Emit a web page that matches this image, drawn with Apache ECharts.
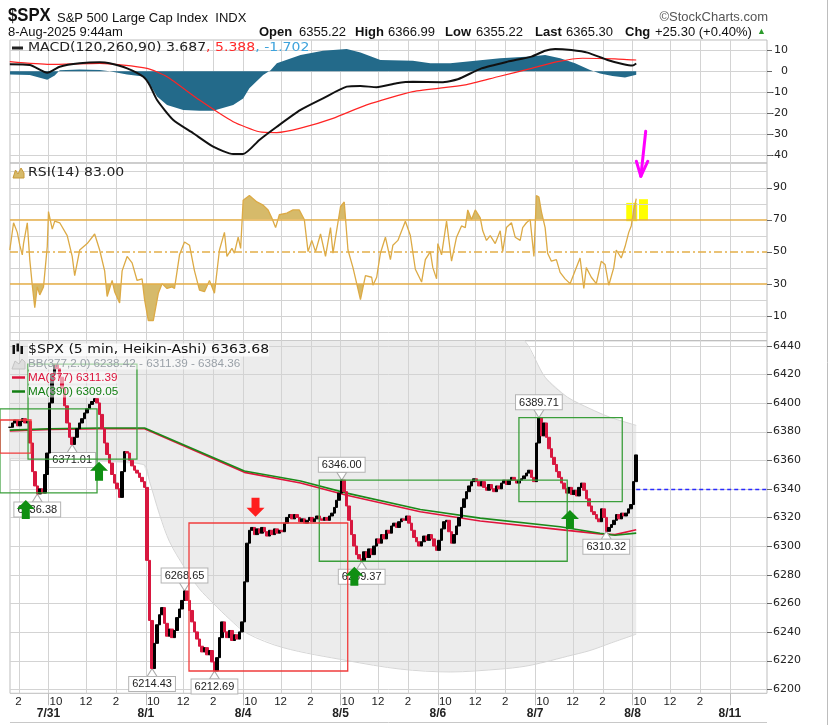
<!DOCTYPE html>
<html>
<head>
<meta charset="utf-8">
<title>$SPX 5 min Heikin-Ashi</title>
<script src="https://cdn.jsdelivr.net/npm/echarts@6.0.0/dist/echarts.min.js"></script>
<style>
html,body{margin:0;padding:0;background:#fff;}
#chart{width:830px;height:725px;}
</style>
</head>
<body>
<div id="chart"></div>
<script>
// ======================= DATA =======================
const dayLabels = ['7/31', '8/1', '8/4', '8/5', '8/6', '8/7', '8/8', '8/11'];
const hourLabels = ['10', '12', '2'];
const hourOffsets = [6, 30, 54];     // 5-min bars after the 9:30 open
const gridOffsets = [0, 30, 54];     // open, 12:00, 14:00
const BARS_PER_DAY = 78;

// Heikin-Ashi closes, one reading per 10 minutes
const close0730 = [6383, 6386, 6388, 6384, 6387, 6389, 6386, 6387, 6372, 6352, 6342, 6336.4, 6340, 6337, 6350, 6365]; // from 13:20
const close0731 = [6400, 6420, 6427, 6424, 6418, 6410, 6398, 6386, 6376, 6371.0, 6376, 6382, 6386, 6389, 6393, 6396, 6399, 6401, 6403, 6400, 6392, 6382, 6372, 6364, 6358, 6350, 6344, 6340, 6334, 6352, 6366, 6365, 6360, 6356, 6353, 6351, 6348, 6345, 6341];
const close0801 = [6290, 6248, 6214.4, 6232, 6245, 6252, 6257, 6246, 6237, 6242, 6236, 6241, 6250, 6256, 6262, 6268.6, 6262, 6255, 6247, 6240, 6235, 6230, 6226, 6229, 6224, 6227, 6219, 6212.7, 6222, 6236, 6247, 6240, 6236, 6241, 6234, 6238, 6235, 6240, 6247];
const close0804 = [6275, 6302, 6311, 6313, 6308, 6312, 6309, 6313, 6310, 6307, 6311, 6308, 6312, 6309, 6311, 6310, 6316, 6320, 6322, 6319, 6322, 6320, 6317, 6319, 6316, 6318, 6320, 6317, 6319, 6321, 6319, 6318, 6320, 6318, 6321, 6323, 6327, 6332, 6337];
const close0805 = [6346, 6338, 6328, 6318, 6308, 6300, 6294, 6291, 6289.4, 6296, 6292, 6298, 6294, 6300, 6305, 6302, 6308, 6305, 6311, 6309, 6314, 6316, 6313, 6317, 6319, 6318, 6321, 6316, 6311, 6306, 6303, 6300, 6303, 6307, 6304, 6308, 6305, 6300, 6297];
const close0806 = [6304, 6312, 6317, 6318, 6310, 6302, 6308, 6314, 6320, 6327, 6333, 6338, 6342, 6345, 6347, 6345, 6342, 6345, 6341, 6339, 6343, 6340, 6338, 6342, 6340, 6344, 6346, 6343, 6346, 6348, 6346, 6344, 6346, 6347, 6349, 6351, 6353, 6348, 6345];
const close0807 = [6372, 6389.7, 6377, 6386, 6376, 6368, 6362, 6357, 6352, 6348, 6344, 6340, 6337, 6341, 6336, 6339, 6335, 6341, 6344, 6339, 6333, 6328, 6324, 6322, 6319, 6317, 6326, 6320, 6310.3, 6313, 6315, 6318, 6322, 6319, 6323, 6321, 6323, 6326, 6329];
const close0808 = [6345, 6363.68];
const prevClose = 6340.00;

// [bar, value] readings (bar 0 = 7/31 9:30)
const ma377 = [[-31,6380.5],[1,6381.5],[41,6382],[77,6382],[157,6351.5],[202,6344],[239,6335.5],[298,6324],[346,6317.5],[410,6311.5],[442,6308.5],[454,6308],[471,6311.39]];
const ma390 = [[-31,6381],[1,6382],[41,6382.5],[77,6382.5],[157,6352.5],[202,6345.5],[239,6337],[298,6325.5],[346,6319.5],[410,6313.5],[442,6309],[454,6307.5],[471,6309.05]];
const bbLower = [[-31,6361],[25,6360],[76,6357],[81,6345],[89,6322],[97,6303],[109,6285],[121,6270],[132,6260],[145,6249],[159,6239],[188,6229],[239,6220],[282,6214],[322,6212],[362,6214],[382,6216],[398,6219],[416,6223],[434,6227],[450,6232],[471,6238.42]];
const bbUpper = [[-31,6450],[25,6451],[76,6452],[81,6455],[89,6462],[97,6468],[109,6472],[121,6475],[132,6477],[145,6478],[159,6478],[188,6477],[239,6474],[282,6470],[322,6465],[362,6456],[382,6443],[398,6418],[416,6404],[434,6396],[450,6390],[471,6384.36]];

const macdLine = [[-31,3.3],[-15,3.0],[-1,-0.7],[9,2.2],[25,3.8],[41,4.3],[49,3.8],[63,1.4],[76,-2.6],[81,-6.5],[87,-13.7],[100,-23.2],[116,-29.5],[132,-35.9],[148,-39.4],[156,-39.4],[169,-32.7],[183,-26.4],[202,-18.4],[220,-12.9],[239,-7.3],[250,-7.0],[263,-7.6],[279,-5.7],[292,-5.0],[315,-5.2],[328,-3.8],[347,1.4],[368,4.6],[387,7.0],[398,9.8],[406,10.6],[419,10.1],[432,8.9],[448,5.4],[460,3.5],[468,2.7],[471,3.687]];
const macdSignal = [[-31,4.6],[1,3.3],[41,3.8],[79,1.4],[95,-2.6],[121,-13.7],[148,-24],[169,-28.8],[183,-29.2],[202,-27.1],[228,-22.4],[255,-16],[292,-9.7],[334,-6.5],[360,-2.6],[387,1.4],[408,4.6],[428,6.2],[454,5.9],[468,5.4],[471,5.388]];
const macdHist = [[-31,-1.5],[-15,-1.8],[-1,-4],[5,-2],[9,0.5],[25,0.8],[41,0.6],[49,0],[63,-1.5],[76,-2.5],[79,-4],[87,-12],[95,-16],[108,-18.4],[121,-18.8],[132,-18.8],[148,-16],[156,-12.9],[161,-8.1],[172,-1.8],[178,0.5],[183,3.8],[202,7.8],[220,9.8],[239,10.6],[250,8.9],[266,5.4],[292,5],[306,3.8],[322,3.8],[342,5],[362,6.2],[386,7],[398,7.8],[410,6.2],[422,3.8],[434,0.6],[442,-1],[452,-2.2],[462,-2.9],[471,-1.702]];

const rsi = [[-31,51],[-28,68],[-25,62],[-23,54],[-21,48],[-20,55],[-17,68],[-15,45],[-13,29],[-11,15],[-9,28],[-7,23],[-4,28],[-1,53],[0,75],[3,64],[5,69],[9,68],[15,60],[19,47],[21,35],[25,51],[31,55],[37,61],[41,51],[45,38],[47,22],[51,32],[53,25],[57,18],[59,38],[63,47],[67,43],[71,32],[75,33],[77,20],[80,7],[84,7],[88,24],[91,30],[95,27],[99,28],[101,27],[105,48],[109,56],[113,54],[117,38],[121,26],[125,25],[129,32],[133,24],[137,51],[141,62],[143,47],[147,52],[149,49],[152,59],[154,52],[156,82],[161,85],[167,81],[172,79],[176,76],[179,71],[182,65],[185,73],[191,74],[196,76],[201,76],[205,70],[208,50],[211,57],[214,50],[218,61],[222,47],[226,65],[228,49],[234,78],[237,81],[240,51],[244,40],[250,20],[254,35],[259,34],[260,29],[263,34],[266,49],[270,59],[274,45],[276,54],[280,57],[286,69],[290,60],[294,39],[299,31],[302,45],[306,50],[308,40],[311,33],[312,55],[315,48],[319,69],[323,44],[327,59],[331,66],[334,65],[336,76],[339,70],[342,76],[346,71],[348,63],[351,57],[354,60],[358,55],[362,63],[364,50],[367,65],[371,68],[374,59],[378,57],[380,65],[383,68],[386,70],[389,47],[391,85],[393,84],[395,75],[398,65],[400,49],[403,44],[407,45],[410,37],[414,33],[418,30],[422,38],[426,46],[429,27],[431,40],[435,34],[439,30],[443,44],[446,42],[449,29],[453,40],[455,51],[459,46],[462,53],[465,62],[467,66],[469,76],[471,83]];
const rsiLevels = [70, 50, 30];

// tick labels
const macdTicks = [-40, -30, -20, -10, 0, 10];
const rsiLabelTicks = [10, 30, 50, 70, 90];
const rsiGridTicks = [0, 10, 20, 40, 60, 80, 90, 100];
const priceTicks = [6200, 6220, 6240, 6260, 6280, 6300, 6320, 6340, 6360, 6380, 6400, 6420, 6440];

// labelled extremes [bar, price, kind]
const priceLabels = [[-9,6336.38,'low'],[19,6371.01,'low'],[83,6214.43,'low'],[109,6268.65,'high'],[133,6212.69,'low'],[235,6346.00,'high'],[251,6289.37,'low'],[393,6389.71,'high'],[447,6310.32,'low']];

// hand-drawn annotations (bar / price space)
const greenBoxes = [[-38.9,38.9,6395.8,6337.1],[-16.4,70.9,6427.2,6360.8],[217.0,415.7,6346.0,6289.37],[377.0,459.8,6389.71,6331.0]];
const redBoxes = [[-38.9,-14.0,6388.1,6365.0],[112.6,239.8,6316.1,6212.69]];
const upArrows = [[-18.2,6332.2],[40.5,6358.9],[245.1,6285.6],[417.9,6325.2]];
const downArrows = [[165.9,6320.5]];
const yellowMarks = [[463,471.8,80.4,69.0],[473.2,480.4,82.7,69.6]];   // RSI space
const magentaStroke = [[478.6,125.1],[474.7,97.0]];
const magentaHead = [[471.1,106.4],[474.7,97.0],[480.3,106.4]];

// ======================= LAYOUT =======================
const SANS = "'Liberation Sans', Arial, Helvetica, sans-serif";
const VERD = "'DejaVu Sans', Verdana, sans-serif";
const PL = 10, PR = 767;
const MACD_T = 40, MACD_B = 163, RSI_T = 163, RSI_B = 340.7, MAIN_T = 340.7, MAIN_B = 693.3;
const X_MIN = -30.85, X_MAX = 575.8;
const MACD_MIN = -43.67, MACD_MAX = 14.9;
const RSI_MIN = -5.6, RSI_MAX = 105.3;
const P_MIN = 6197.1, P_MAX = 6443.5;
const rsiPx = v => RSI_T + (RSI_MAX - v) / (RSI_MAX - RSI_MIN) * (RSI_B - RSI_T);
const GRID_COLOR = '#d3d3d3';

// ---- candles from closes ----
const sessions = [
  {day: -1, firstSlot: 23, closes: close0730},
  {day: 0, firstSlot: 0, closes: close0731},
  {day: 1, firstSlot: 0, closes: close0801},
  {day: 2, firstSlot: 0, closes: close0804},
  {day: 3, firstSlot: 0, closes: close0805},
  {day: 4, firstSlot: 0, closes: close0806},
  {day: 5, firstSlot: 0, closes: close0807},
  {day: 6, firstSlot: 0, closes: close0808}
];
const candles = [];
let prev = null;
sessions.forEach(s => s.closes.forEach((c, k) => {
  const bar = s.day * BARS_PER_DAY + 2 * (s.firstSlot + k) + 1;
  const o = prev === null ? c : prev;
  candles.push([bar, o, c, Math.min(o, c), Math.max(o, c)]);
  prev = c;
}));
const lastBar = candles[candles.length - 1][0];

// ---- x ticks ----
const dayStarts = dayLabels.map((_, i) => i * BARS_PER_DAY);
const hourTicks = [];
for (let d = -1; d < dayLabels.length - 1; d++) hourOffsets.forEach(o => { const b = d * BARS_PER_DAY + o; if (b > X_MIN && b < X_MAX) hourTicks.push(b); });
const vGrid = [];
for (let d = -1; d < dayLabels.length; d++) gridOffsets.forEach(o => { const b = d * BARS_PER_DAY + o; if (b > X_MIN && b < X_MAX) vGrid.push(b); });
const hourLabelOf = v => { const o = ((Math.round(v) % BARS_PER_DAY) + BARS_PER_DAY) % BARS_PER_DAY; const i = hourOffsets.indexOf(o); return i >= 0 ? hourLabels[i] : ''; };

function xAx(gi) {
  return {type: 'value', gridIndex: gi, min: X_MIN, max: X_MAX, show: true,
    axisLine: {show: false}, axisTick: {show: false}, axisLabel: {show: false}, splitLine: {show: false}};
}
const xAxes = [xAx(0), xAx(1), xAx(2), xAx(3), xAx(4)];
xAxes[4].axisLabel = {show: true, customValues: hourTicks, formatter: hourLabelOf, fontFamily: SANS, fontSize: 11.5, color: '#222', margin: 3};
xAxes.push({type: 'value', gridIndex: 4, min: X_MIN, max: X_MAX, position: 'bottom', offset: 12,
  axisLine: {show: false}, axisTick: {show: false},
  axisLabel: {show: true, customValues: dayStarts, formatter: v => dayLabels[Math.round(v / BARS_PER_DAY)] || '', fontFamily: SANS, fontSize: 12, fontWeight: 'bold', color: '#222', margin: 2},
  splitLine: {show: false}});

function yAx(gi, min, max, labels) {
  return {type: 'value', gridIndex: gi, position: 'right', min, max, show: true,
    axisLine: {show: false},
    axisTick: {show: false},
    axisLabel: {show: true, customValues: labels, formatter: v => String(v), fontFamily: VERD, fontSize: 11, color: '#222', margin: 6},
    splitLine: {show: false}};
}
const yAxes = [
  yAx(0, MACD_MIN, MACD_MAX, macdTicks),
  yAx(1, RSI_MIN, RSI_MAX, rsiLabelTicks),
  {type: 'value', gridIndex: 2, min: 70, max: RSI_MAX, show: false},
  {type: 'value', gridIndex: 3, min: RSI_MIN, max: 30, show: false},
  yAx(4, P_MIN, P_MAX, priceTicks)
];
yAxes[0].axisLabel.align = 'right';
yAxes[0].axisLabel.margin = 21;

const gridBase = {left: PL, width: PR - PL, containLabel: false, outerBoundsMode: 'none', borderColor: '#bdbdbd', borderWidth: 1, backgroundColor: 'transparent'};
const grids = [
  Object.assign({}, gridBase, {top: MACD_T, height: MACD_B - MACD_T, show: true}),
  Object.assign({}, gridBase, {top: RSI_T, height: RSI_B - RSI_T, show: true}),
  Object.assign({}, gridBase, {top: RSI_T, height: rsiPx(70) - RSI_T, show: false}),
  Object.assign({}, gridBase, {top: rsiPx(30), height: RSI_B - rsiPx(30), show: false}),
  Object.assign({}, gridBase, {top: MAIN_T, height: MAIN_B - MAIN_T, show: true})
];

const bbRows = bbLower.map((p, i) => [p[0], p[1], bbUpper[i][1]]);
const RED = '#d8173f', GREEN = '#1a8a1a', RSI_FILL = '#d6ba6a', RSI_LINE = '#dcaa45', RSI_LVL = '#e4ae48';

const option = {
  animation: false,
  backgroundColor: '#ffffff',
  textStyle: {fontFamily: SANS},
  grid: grids,
  xAxis: xAxes,
  yAxis: yAxes,
  series: [
    {type: 'line', xAxisIndex: 0, yAxisIndex: 0, data: macdHist, symbol: 'none', silent: true,
      lineStyle: {width: 0}, areaStyle: {color: '#236a8a', opacity: 1}, z: 2},
    {type: 'line', xAxisIndex: 0, yAxisIndex: 0, data: macdSignal, symbol: 'none', silent: true, smooth: 0.2,
      lineStyle: {color: '#ff2424', width: 1.2}, z: 3},
    {type: 'line', xAxisIndex: 0, yAxisIndex: 0, data: macdLine, symbol: 'none', silent: true, smooth: 0.2,
      lineStyle: {color: '#111111', width: 2}, z: 4},

    {type: 'line', xAxisIndex: 2, yAxisIndex: 2, data: rsi, symbol: 'none', silent: true,
      lineStyle: {width: 0, opacity: 0}, areaStyle: {origin: 'start', color: RSI_FILL, opacity: 1}, z: 2},
    {type: 'line', xAxisIndex: 3, yAxisIndex: 3, data: rsi, symbol: 'none', silent: true,
      lineStyle: {width: 0, opacity: 0}, areaStyle: {origin: 'end', color: RSI_FILL, opacity: 1}, z: 2},
    {type: 'line', xAxisIndex: 1, yAxisIndex: 1, data: rsi, symbol: 'none', silent: true,
      lineStyle: {color: RSI_LINE, width: 1.3}, z: 4,
      markLine: {silent: true, symbol: ['none', 'none'], label: {show: false}, animation: false,
        data: rsiLevels.map(v => ({yAxis: v, lineStyle: {color: RSI_LVL, width: 1.6, type: v === 50 ? [8, 3, 2, 3] : 'solid'}}))}},

    {type: 'custom', xAxisIndex: 4, yAxisIndex: 4, clip: true, silent: true, z: 1,
      data: bbRows, encode: {x: 0, y: [1, 2]},
      renderItem: function (params, api) {
        if (params.dataIndex !== 0) return null;
        const up = bbRows.map(r => api.coord([r[0], r[2]]));
        const lo = bbRows.map(r => api.coord([r[0], r[1]])).reverse();
        return {type: 'polygon', shape: {points: up.concat(lo)}, style: {fill: '#ececec', stroke: null}};
      }},
    {type: 'line', xAxisIndex: 4, yAxisIndex: 4, data: bbLower, symbol: 'none', silent: true, smooth: 0.3,
      lineStyle: {color: '#d6d6d6', width: 1}, z: 1},
    {type: 'line', xAxisIndex: 4, yAxisIndex: 4, data: bbUpper, symbol: 'none', silent: true, smooth: 0.3,
      lineStyle: {color: '#d6d6d6', width: 1}, z: 1},
    {type: 'line', xAxisIndex: 4, yAxisIndex: 4, data: ma377, symbol: 'none', silent: true,
      lineStyle: {color: '#e0143c', width: 1.6}, z: 3},
    {type: 'line', xAxisIndex: 4, yAxisIndex: 4, data: ma390, symbol: 'none', silent: true,
      lineStyle: {color: GREEN, width: 1.6}, z: 3},

    {type: 'candlestick', xAxisIndex: 4, yAxisIndex: 4, data: candles, large: false, silent: true,
      dimensions: ['bar', 'open', 'close', 'lowest', 'highest'],
      encode: {x: 'bar', y: ['open', 'close', 'lowest', 'highest']},
      barWidth: 3,
      itemStyle: {color: '#000000', color0: RED, borderColor: '#000000', borderColor0: RED, borderWidth: 1},
      z: 5,
      markLine: {silent: true, symbol: ['none', 'none'], label: {show: false}, animation: false,
        lineStyle: {color: '#2a2aff', type: [4, 3], width: 1.4},
        data: [[{coord: [lastBar, prevClose]}, {coord: [X_MAX, prevClose]}]]},
      markPoint: {silent: true, animation: false,
        data: priceLabels.map(([b, p, kind]) => ({
          coord: [b, p], value: p,
          symbol: 'triangle', symbolSize: [10, 8],
          symbolRotate: kind === 'low' ? 0 : 180,
          symbolOffset: [0, kind === 'low' ? 4 : -4],
          itemStyle: {color: '#ffffff', borderColor: '#aaaaaa', borderWidth: 1},
          label: {show: true, position: kind === 'low' ? 'bottom' : 'top', distance: 0,
            formatter: p.toFixed(2), fontFamily: SANS, fontSize: 11, color: '#222',
            backgroundColor: '#ffffff', borderColor: '#b4b4b4', borderWidth: 1, padding: [2, 3, 1, 3]}
        }))}}
  ]
};

const chart = echarts.init(document.getElementById('chart'), null, {renderer: 'canvas', width: 830, height: 725});
chart.setOption(option);

// ======================= GRID, TEXT & ANNOTATIONS =======================
const G = [];
const toPx = (xi, yi, b, v) => chart.convertToPixel({xAxisIndex: xi, yAxisIndex: yi}, [b, v]);
const crisp = v => Math.round(v) + 0.5;

// light grid on each panel's own scales, with right-hand ticks
function panelGrid(ai, top, bottom, hVals, tickVals) {
  vGrid.forEach(b => {
    const x = crisp(toPx(ai, ai, b, hVals[0])[0]);
    G.push({type: 'line', z: 1.5, silent: true, shape: {x1: x, y1: top, x2: x, y2: bottom},
      style: {stroke: GRID_COLOR, lineWidth: 1}});
  });
  hVals.forEach(v => {
    const y = crisp(toPx(ai, ai, X_MIN, v)[1]);
    G.push({type: 'line', z: 1.5, silent: true, shape: {x1: PL, y1: y, x2: PR, y2: y},
      style: {stroke: GRID_COLOR, lineWidth: 1}});
  });
  tickVals.forEach(v => {
    const y = crisp(toPx(ai, ai, X_MIN, v)[1]);
    G.push({type: 'line', z: 100, silent: true, shape: {x1: PR, y1: y, x2: PR + 5, y2: y}, style: {stroke: '#666', lineWidth: 1}});
  });
}
panelGrid(0, MACD_T, MACD_B, macdTicks, macdTicks);
panelGrid(1, RSI_T, RSI_B, rsiGridTicks, rsiLabelTicks);
panelGrid(4, MAIN_T, MAIN_B, priceTicks, priceTicks);
// day separators running into the label band
dayStarts.forEach(b => {
  const x = crisp(toPx(4, 4, b, P_MIN)[0]);
  G.push({type: 'line', z: 100, silent: true, shape: {x1: x, y1: MAIN_B, x2: x, y2: MAIN_B + 12},
    style: {stroke: '#bbbbbb', lineWidth: 1}});
});

function T(x, y, text, st, extra) {
  return Object.assign({type: 'text', x: x, y: y, z: 100, silent: true,
    style: Object.assign({text: text, fontFamily: SANS, fontSize: 13, fill: '#111', align: 'left', textAlign: 'left',
      verticalAlign: 'middle', textVerticalAlign: 'middle'}, st || {})}, extra || {});
}
// header
G.push(T(8, 16, '$SPX', {fontSize: 19, fontWeight: 'bold'}, {scaleX: 0.88}));
G.push(T(57, 18, 'S&P 500 Large Cap Index  INDX', {fontSize: 13}));
G.push(T(768, 17, '\u00A9StockCharts.com', {fontSize: 13, fill: '#555', align: 'right', textAlign: 'right'}));
G.push(T(8, 32, '8-Aug-2025 9:44am', {fontSize: 13}));
[['Open', 259, true], ['6355.22', 299, false], ['High', 355, true], ['6366.99', 388, false], ['Low', 445, true],
 ['6355.22', 476, false], ['Last', 535, true], ['6365.30', 566, false], ['Chg', 625, true], ['+25.30 (+0.40%)', 655, false]]
  .forEach(([t, x, b]) => G.push(T(x, 32, t, {fontSize: 13, fontWeight: b ? 'bold' : 'normal'})));
G.push(T(757, 32, '\u25B2', {fontSize: 9, fill: '#2a9a2a'}));

// MACD legend
G.push({type: 'rect', z: 100, silent: true, shape: {x: 12, y: 46.5, width: 11, height: 3}, style: {fill: '#222'}});
G.push(T(28, 48, '{k|MACD(120,260,90) 3.687}{r|, 5.388}{b|, -1.702}', {fontFamily: VERD, fontSize: 13,
  rich: {k: {fill: '#222', fontFamily: VERD, fontSize: 13}, r: {fill: '#ff2a2a', fontFamily: VERD, fontSize: 13}, b: {fill: '#3ea3dc', fontFamily: VERD, fontSize: 13}}}, {scaleX: 1.08}));
// RSI legend
G.push({type: 'polygon', z: 100, silent: true, shape: {points: [[13, 178], [15.5, 170], [18, 174], [21, 168], [24, 173], [24, 178]]}, style: {fill: RSI_FILL, stroke: '#c89a3a', lineWidth: 1}});
G.push(T(28, 173, 'RSI(14) 83.00', {fontFamily: VERD, fontSize: 13, fill: '#222'}, {scaleX: 1.08}));
// main legend
G.push({type: 'rect', z: 100, silent: true, shape: {x: 12.5, y: 345, width: 2.5, height: 9}, style: {fill: '#111'}});
G.push({type: 'rect', z: 100, silent: true, shape: {x: 16.5, y: 343.5, width: 2.5, height: 8}, style: {fill: '#111'}});
G.push({type: 'rect', z: 100, silent: true, shape: {x: 20.5, y: 346, width: 2.5, height: 8}, style: {fill: '#111'}});
G.push(T(28, 350, '$SPX (5 min, Heikin-Ashi) 6363.68', {fontFamily: VERD, fontSize: 13, fill: '#111', backgroundColor: 'rgba(255,255,255,0.8)'}, {scaleX: 1.08}));
G.push({type: 'polygon', z: 100, silent: true, shape: {points: [[12, 369], [15, 361], [19, 364], [22, 359], [25, 362], [25, 369]]}, style: {fill: '#dedede', stroke: '#c4c4c4', lineWidth: 1}});
G.push(T(28, 363.5, 'BB(377,2.0) 6238.42 - 6311.39 - 6384.36', {fontSize: 11.7, fill: '#9aa1a8', backgroundColor: 'rgba(255,255,255,0.55)'}));
G.push({type: 'line', z: 100, silent: true, shape: {x1: 12, y1: 377.5, x2: 25, y2: 377.5}, style: {stroke: '#dc143c', lineWidth: 2.5}});
G.push(T(28, 377.5, 'MA(377) 6311.39', {fontSize: 11.7, fill: '#dc143c', backgroundColor: 'rgba(255,255,255,0.55)'}));
G.push({type: 'line', z: 100, silent: true, shape: {x1: 12, y1: 391.5, x2: 25, y2: 391.5}, style: {stroke: '#137f13', lineWidth: 2.5}});
G.push(T(28, 391.5, 'MA(390) 6309.05', {fontSize: 11.7, fill: '#137f13', backgroundColor: 'rgba(255,255,255,0.55)'}));

// frame bits
G.push({type: 'line', z: 100, silent: true, shape: {x1: PL, y1: 722.5, x2: PR, y2: 722.5}, style: {stroke: '#c8c8c8', lineWidth: 1}});
G.push({type: 'line', z: 100, silent: true, shape: {x1: 827.5, y1: 0, x2: 827.5, y2: 725}, style: {stroke: '#bdbdbd', lineWidth: 1}});

// annotations through the axes
const pMain = (b, v) => toPx(4, 4, b, v);
const pRsi = (b, v) => toPx(1, 1, b, v);
function boxEl(bx, color, z) {
  const a = pMain(bx[0], bx[2]), c = pMain(bx[1], bx[3]);
  return {type: 'rect', z: z, silent: true, shape: {x: a[0], y: a[1], width: c[0] - a[0], height: c[1] - a[1]},
    style: {fill: 'none', stroke: color, lineWidth: 1.3}};
}
greenBoxes.forEach(b => G.push(boxEl(b, '#3a9e3a', 60)));
redBoxes.forEach(b => G.push(boxEl(b, '#f03c3c', 60)));
function arrowEl(tip, dir, color) {
  const [tx, ty] = pMain(tip[0], tip[1]);
  const s = dir;  // 1 = up (tip on top), -1 = down
  const pts = [[tx, ty], [tx + 9, ty + 9 * s], [tx + 4, ty + 9 * s], [tx + 4, ty + 19 * s], [tx - 4, ty + 19 * s], [tx - 4, ty + 9 * s], [tx - 9, ty + 9 * s]];
  return {type: 'polygon', z: 110, silent: true, shape: {points: pts}, style: {fill: color, stroke: null}};
}
upArrows.forEach(t => G.push(arrowEl(t, 1, '#0f8f12')));
downArrows.forEach(t => G.push(arrowEl(t, -1, '#ff1f1f')));
yellowMarks.forEach(m => {
  const a = pRsi(m[0], m[2]), c = pRsi(m[1], m[3]);
  G.push({type: 'rect', z: 1, silent: true, shape: {x: a[0], y: a[1], width: c[0] - a[0], height: c[1] - a[1]}, style: {fill: '#ffff00'}});
});
G.push({type: 'polyline', z: 120, silent: true, shape: {points: magentaStroke.map(p => pRsi(p[0], p[1]))}, style: {stroke: '#ff00ff', lineWidth: 3, fill: null, lineCap: 'round'}});
G.push({type: 'polyline', z: 120, silent: true, shape: {points: magentaHead.map(p => pRsi(p[0], p[1]))}, style: {stroke: '#ff00ff', lineWidth: 3, fill: null, lineCap: 'round', lineJoin: 'round'}});

chart.setOption({graphic: {elements: G}});
</script>
</body>
</html>
